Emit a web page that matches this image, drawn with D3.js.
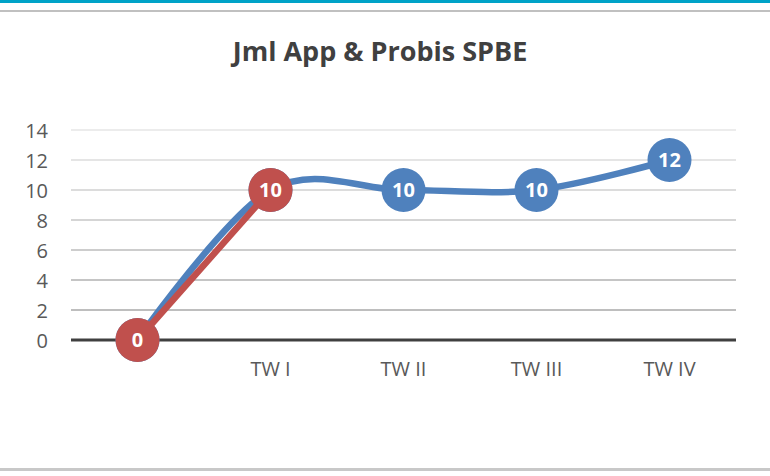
<!DOCTYPE html>
<html>
<head>
<meta charset="utf-8">
<script src="https://cdn.jsdelivr.net/npm/d3@7"></script>
<style>
  body { margin: 0; background: #fff; }
  svg { display: block; font-family: "Open Sans", "Noto Sans", sans-serif; }
</style>
</head>
<body>
<svg id="chart" width="770" height="476"></svg>
<script>
// chart data
var categories = ["", "TW I", "TW II", "TW III", "TW IV"];
var blueValues = [0, 10, 10, 10, 12];
var redValues = [0, 10];
var yTicks = [0, 2, 4, 6, 8, 10, 12, 14];
var titleText = "Jml App & Probis SPBE";

var width = 770, height = 476;
var svg = d3.select("#chart");

// frame lines
svg.append("rect").attr("x", 0).attr("y", 0).attr("width", width).attr("height", 3).attr("fill", "#00a3c8");
svg.append("rect").attr("x", 0).attr("y", 10).attr("width", width).attr("height", 2).attr("fill", "#c0c0c0");
svg.append("rect").attr("x", 0).attr("y", 468).attr("width", width).attr("height", 3).attr("fill", "#c8c8c8");

svg.append("text")
  .attr("x", 380).attr("y", 61)
  .attr("text-anchor", "middle")
  .attr("font-size", 27).attr("font-weight", "bold")
  .attr("fill", "#404040")
  .text(titleText);

var x = d3.scaleBand().domain(categories).range([71, 736]);
var y = d3.scaleLinear().domain([0, 14]).range([340, 130]);

function cx(i) { return x(categories[i]) + x.bandwidth() / 2; }

// gridlines, darker toward the bottom
var gridColor = d3.scaleLinear().domain([14, 2]).range(["#e6e6e6", "#a8a8a8"]);
svg.append("g").selectAll("line")
  .data(yTicks.filter(function(d) { return d > 0; }))
  .enter().append("line")
  .attr("x1", 71).attr("x2", 736)
  .attr("y1", function(d) { return y(d); })
  .attr("y2", function(d) { return y(d); })
  .attr("stroke", function(d) { return gridColor(d); })
  .attr("stroke-width", 1.5);

// y axis labels
var yAxis = d3.axisLeft(y).tickValues(yTicks).tickSize(0).tickPadding(0);
var gy = svg.append("g").attr("transform", "translate(48,0)").call(yAxis);
gy.select(".domain").remove();
gy.selectAll("text").attr("font-size", 20).attr("fill", "#595959")
  .attr("font-family", "'Open Sans', sans-serif").attr("dy", "0.35em");

// x axis (zero line)
svg.append("line")
  .attr("x1", 71).attr("x2", 736)
  .attr("y1", y(0)).attr("y2", y(0))
  .attr("stroke", "#404040").attr("stroke-width", 3);

var xAxis = d3.axisBottom(x).tickSize(0).tickPadding(0);
var gx = svg.append("g").attr("transform", "translate(0," + 362 + ")").call(xAxis);
gx.select(".domain").remove();
gx.selectAll("text").attr("font-size", 20).attr("fill", "#595959")
  .attr("font-family", "'Open Sans', sans-serif");

function drawSeries(values, color) {
  var line = d3.line()
    .x(function(d, i) { return cx(i); })
    .y(function(d) { return y(d); })
    .curve(d3.curveCatmullRom.alpha(0));
  svg.append("path")
    .datum(values)
    .attr("d", line)
    .attr("fill", "none")
    .attr("stroke", color)
    .attr("stroke-width", 6.5)
    .attr("stroke-linecap", "round");

  var pts = svg.append("g").selectAll("g")
    .data(values).enter().append("g")
    .attr("transform", function(d, i) { return "translate(" + cx(i) + "," + y(d) + ")"; });
  pts.append("circle").attr("r", 22).attr("fill", color);
  pts.append("text")
    .attr("text-anchor", "middle").attr("dy", "0.36em")
    .attr("font-size", 20).attr("font-weight", "bold")
    .attr("fill", "#ffffff")
    .text(function(d) { return d; });
}

drawSeries(blueValues, "#4f81bd");
drawSeries(redValues, "#c0504d");
</script>
</body>
</html>
